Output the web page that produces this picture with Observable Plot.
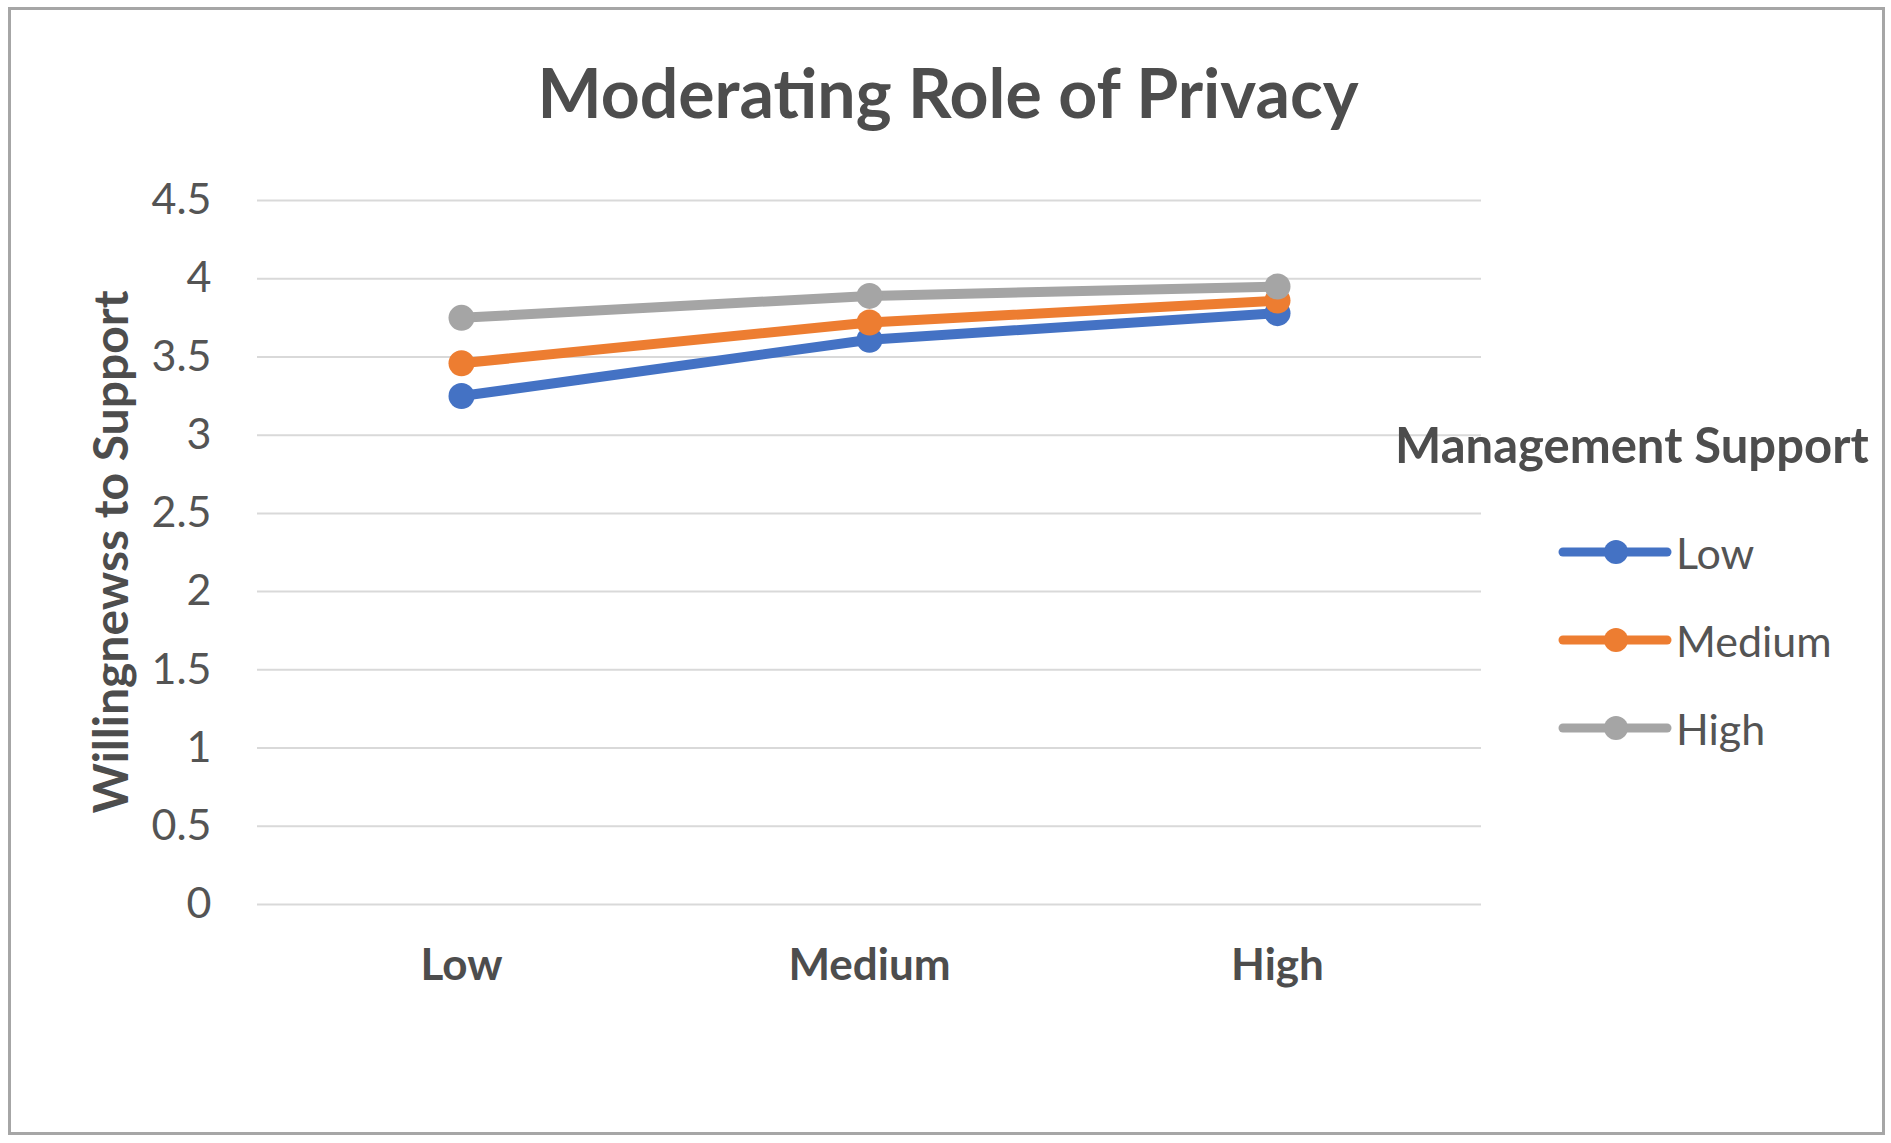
<!DOCTYPE html>
<html>
<head>
<meta charset="utf-8">
<script src="https://cdn.jsdelivr.net/npm/d3@7"></script>
<script src="https://cdn.jsdelivr.net/npm/@observablehq/plot@0.6"></script>
<style>
  html, body { margin: 0; padding: 0; background: #fff; }
  #wrap { position: relative; width: 1891px; height: 1143px; overflow: hidden; font-family: Lato, "Open Sans", sans-serif; color: #545454; }
  #frame { position: absolute; left: 8px; top: 7px; width: 1877px; height: 1128px; border: 3px solid #A6A6A6; box-sizing: border-box; }
  #title { position: absolute; left: 0; width: 1896px; top: 58px; text-align: center; font-size: 68px; font-weight: 700; line-height: 1; color: #4d4d4d; }
  #ylabel { position: absolute; left: 110px; top: 552px; transform: translate(-50%, -50%) rotate(-90deg); white-space: nowrap; font-size: 48px; font-weight: 700; line-height: 1; color: #4d4d4d; }
  #legend-title { position: absolute; left: 1395px; top: 420px; font-size: 49px; font-weight: 700; white-space: nowrap; line-height: 1; color: #4d4d4d; }
  .leg { position: absolute; left: 1556px; height: 60px; display: flex; align-items: center; font-size: 43px; line-height: 1; white-space: nowrap; }
  .leg svg { margin-right: 2px; }
  #plot { position: absolute; left: 0; top: 0; }
</style>
</head>
<body>
<div id="wrap">
  <div id="frame"></div>
  <div id="plot"></div>
  <div id="title"></div>
  <div id="ylabel"></div>
  <div id="legend-title"></div>
  <div id="legend"></div>
</div>
<script>
// ---- data ----
const titleText = "Moderating Role of Privacy";
const yAxisTitle = "Willingnewss to Support";
const legendTitle = "Management Support";
const categories = ["Low", "Medium", "High"];          // x axis (privacy)
const seriesNames = ["Low", "Medium", "High"];         // management support
const seriesColors = ["#4472C4", "#ED7D31", "#A5A5A5"];
const lowValues = [3.25, 3.61, 3.78];
const mediumValues = [3.46, 3.72, 3.86];
const highValues = [3.75, 3.89, 3.95];
const yTicks = [0, 0.5, 1, 1.5, 2, 2.5, 3, 3.5, 4, 4.5];

const seriesValues = [lowValues, mediumValues, highValues];
const data = [];
seriesNames.forEach((s, i) => {
  categories.forEach((c, j) => data.push({series: s, cat: c, value: seriesValues[i][j]}));
});

const chart = Plot.plot({
  width: 1891,
  height: 1143,
  marginLeft: 257,
  marginRight: 410,
  marginTop: 200,
  marginBottom: 239,
  style: {fontFamily: "Lato, 'Open Sans', sans-serif", background: "transparent"},
  x: {type: "point", domain: categories, padding: 0.5},
  y: {domain: [0, 4.5]},
  color: {domain: seriesNames, range: seriesColors},
  marks: [
    Plot.ruleY(yTicks, {stroke: "#D9D9D9", strokeWidth: 2}),
    Plot.axisY(yTicks, {tickSize: 0, tickPadding: 46, fontSize: 43, fill: "#545454", label: null, tickFormat: d => String(d)}),
    Plot.axisX({tickSize: 0, tickPadding: 44, fontSize: 44, fontWeight: 700, fill: "#4d4d4d", label: null}),
    Plot.line(data, {x: "cat", y: "value", z: "series", stroke: "series", strokeWidth: 10, strokeLinecap: "round", strokeLinejoin: "round"}),
    Plot.dot(data, {x: "cat", y: "value", fill: "series", r: 13, stroke: "none"})
  ]
});
document.getElementById("plot").appendChild(chart);

document.getElementById("title").textContent = titleText;
document.getElementById("ylabel").textContent = yAxisTitle;
document.getElementById("legend-title").textContent = legendTitle;

const legendTops = [522, 610, 698];
const legend = document.getElementById("legend");
seriesNames.forEach((s, i) => {
  const row = document.createElement("div");
  row.className = "leg";
  row.style.top = legendTops[i] + "px";
  row.innerHTML = `<svg width="118" height="30"><line x1="7" y1="15" x2="111" y2="15" stroke="${seriesColors[i]}" stroke-width="9" stroke-linecap="round"/><circle cx="60" cy="15" r="12" fill="${seriesColors[i]}"/></svg><span>${s}</span>`;
  legend.appendChild(row);
});
</script>
</body>
</html>
